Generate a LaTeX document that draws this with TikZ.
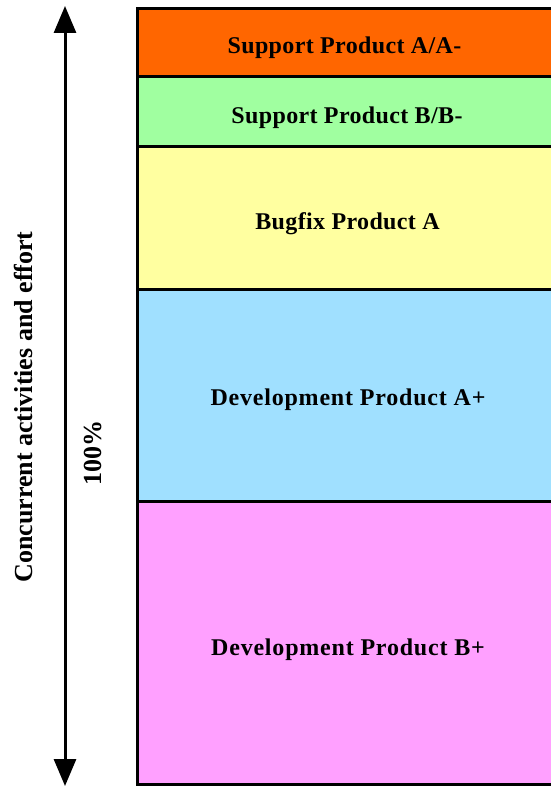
\documentclass[tikz,border=0pt]{standalone}
\usepackage{fontspec}
\setmainfont{Liberation Serif}
\usetikzlibrary{arrows.meta}
\definecolor{supA}{HTML}{FF6600}
\definecolor{supB}{HTML}{A0FFA0}
\definecolor{bugA}{HTML}{FFFFA0}
\definecolor{devA}{HTML}{A0E0FF}
\definecolor{devB}{HTML}{FFA0FF}
\tikzset{
  band/.style={draw=black, line width=3pt},
  bandlabel/.style={font=\fontsize{24}{28}\selectfont\bfseries\addfontfeature{LetterSpace=1.5}, inner sep=0pt},
  widelabel/.style={font=\fontsize{24}{28}\selectfont\bfseries\addfontfeature{LetterSpace=3.3}, inner sep=0pt},
  sidelabel/.style={font=\fontsize{26}{30}\selectfont\bfseries, inner sep=0pt, rotate=90},
  effort/.style={line width=3pt, {Triangle[length=27pt,width=22pt]}-{Triangle[length=27pt,width=22pt]}}
}
\begin{document}
\begin{tikzpicture}[x=1pt, y=-1pt]
  \useasboundingbox (0,0) rectangle (550,786);
  % stacked activity bands (the right side runs off the page)
  \filldraw[band, fill=supA] (137.5,8.7)  rectangle (556,76.5);
  \filldraw[band, fill=supB] (137.5,76.5) rectangle (556,147);
  \filldraw[band, fill=bugA] (137.5,147)  rectangle (556,289);
  \filldraw[band, fill=devA] (137.5,289)  rectangle (556,501);
  \filldraw[band, fill=devB] (137.5,501)  rectangle (556,784.5);
  % band labels
  \node[bandlabel] (lsa) at (344.5,48)  {Support Product A/A-};
  \node[bandlabel] (lsb) at (347,118)   {Support Product B/B-};
  \node[bandlabel] (lba) at (347.5,224) {Bugfix Product A};
  \node[widelabel] (lda) at (348,400)   {Development Product A+};
  \node[widelabel] (ldb) at (348,650)   {Development Product B+};
  % effort axis
  \coordinate (axtop) at (65,6);
  \coordinate (axbot) at (65,786);
  \draw[effort] (axtop) -- (axbot);
  \node[sidelabel] (conc) at (24,407) {Concurrent activities and effort};
  \node[sidelabel] (pct) at (93,453) {100\%};
\end{tikzpicture}
\end{document}
